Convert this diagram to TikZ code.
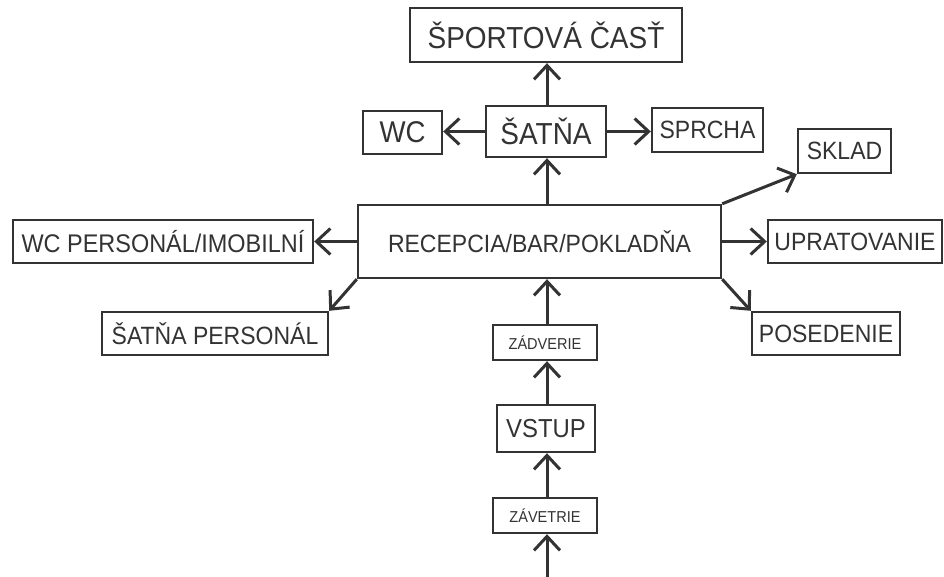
\documentclass[tikz,border=0pt]{standalone}
\usepackage{fontspec}
\setmainfont{Liberation Sans}[FakeStretch=0.92]
\usetikzlibrary{arrows.meta}
\definecolor{ink}{HTML}{333333}
\tikzset{
  bx/.style={draw=ink, line width=2.4pt, text=ink, inner sep=0pt, anchor=center},
  arr/.style={draw=ink, line width=3pt, -{Straight Barb[length=14pt,width=26pt,line width=3pt]}},
}
\newcommand{\fs}[1]{\fontsize{#1}{#1}\selectfont}
\begin{document}
\begin{tikzpicture}[x=1pt,y=-1pt]
\useasboundingbox[fill=white] (0,0) rectangle (944,577);
\node[bx, minimum width=272pt, minimum height=54pt, font=\fs{30.4}] (sport) at (546,35) {ŠPORTOVÁ ČASŤ};
\node[bx, minimum width=120pt, minimum height=51pt, font=\fs{30.4}] (satna) at (546,131.5) {ŠATŇA};
\node[bx, minimum width=79pt, minimum height=43pt, font=\fs{30}] (wc) at (402.5,132.5) {WC};
\node[bx, minimum width=111pt, minimum height=44pt, font=\fs{25}] (sprcha) at (707.5,130) {SPRCHA};
\node[bx, minimum width=363pt, minimum height=73pt, font=\fs{25}] (recep) at (539.5,241.5) {RECEPCIA/BAR/POKLADŇA};
\node[bx, minimum width=300pt, minimum height=43pt, font=\fs{25.5}] (wcp) at (163,241.5) {WC PERSONÁL/IMOBILNÍ};
\node[bx, minimum width=226pt, minimum height=43pt, font=\fs{25}] (satp) at (215,333.5) {ŠATŇA PERSONÁL};
\node[bx, minimum width=93pt, minimum height=44pt, font=\fs{25}] (sklad) at (844.5,151) {SKLAD};
\node[bx, minimum width=174pt, minimum height=43pt, font=\fs{25}] (uprat) at (855,241.5) {UPRATOVANIE};
\node[bx, minimum width=148pt, minimum height=43pt, font=\fs{25}] (posed) at (826,333.5) {POSEDENIE};
\node[bx, minimum width=104pt, minimum height=35pt, font=\fs{15.8}] (zadv) at (545,342.5) {ZÁDVERIE};
\node[bx, minimum width=98pt, minimum height=47pt, font=\fs{26}] (vstup) at (546,428.5) {VSTUP};
\node[bx, minimum width=104pt, minimum height=35pt, font=\fs{15.8}] (zavet) at (545,515.5) {ZÁVETRIE};
\coordinate (bot) at (547,577);
\coordinate (vx) at (547,0);
% connectors
\draw[arr] (satna.north -| vx) -- (sport.south -| vx);
\draw[arr] (satna.west) -- (wc.east |- satna.west);
\draw[arr] (satna.east) -- (sprcha.west |- satna.east);
\draw[arr] (recep.north -| vx) -- (satna.south -| vx);
\draw[arr] (recep.west) -- (wcp.east);
\draw[arr] (recep.south west) -- (satp.north east);
\draw[arr] (recep.north east) -- (sklad.south west);
\draw[arr] (recep.east) -- (uprat.west);
\draw[arr] (recep.south east) -- (posed.north west);
\draw[arr] (zadv.north -| vx) -- (recep.south -| vx);
\draw[arr] (vstup.north -| vx) -- (zadv.south -| vx);
\draw[arr] (zavet.north -| vx) -- (vstup.south -| vx);
\draw[arr] (bot) -- (zavet.south -| vx);
\end{tikzpicture}
\end{document}
